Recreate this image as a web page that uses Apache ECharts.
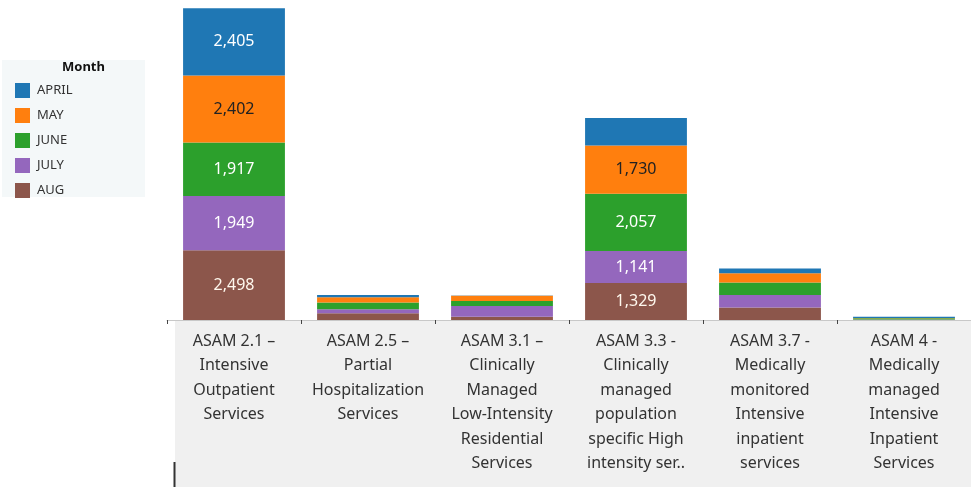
<!DOCTYPE html>
<html><head><meta charset="utf-8">
<script src="https://cdn.jsdelivr.net/npm/echarts@6/dist/echarts.min.js"></script>
<style>html,body{margin:0;padding:0;background:#fff}#c{width:971px;height:487px}</style>
</head><body><div id="c"></div>
<script>
const categories = [
  'ASAM 2.1 –\nIntensive\nOutpatient\nServices',
  'ASAM 2.5 –\nPartial\nHospitalization\nServices',
  'ASAM 3.1 –\nClinically\nManaged\nLow-Intensity\nResidential\nServices',
  'ASAM 3.3 -\nClinically\nmanaged\npopulation\nspecific High\nintensity ser..',
  'ASAM 3.7 -\nMedically\nmonitored\nIntensive\ninpatient\nservices',
  'ASAM 4 -\nMedically\nmanaged\nIntensive\nInpatient\nServices'
];
const months = ['APRIL', 'MAY', 'JUNE', 'JULY', 'AUG'];
const april = [2405, 85, 10, 980, 170, 45];
const may   = [2402, 190, 180, 1730, 335, 5];
const june  = [1917, 240, 180, 2057, 445, 50];
const july  = [1949, 145, 385, 1141, 455, 5];
const aug   = [2498, 240, 120, 1329, 445, 10];
const colors = {APRIL:'#1f77b4', MAY:'#ff7f0e', JUNE:'#2ca02c', JULY:'#9467bd', AUG:'#8c564b'};
const labelColors = {APRIL:'#ffffff', MAY:'#222222', JUNE:'#ffffff', JULY:'#ffffff', AUG:'#fff8ee'};
const valuesByMonth = {APRIL:april, MAY:may, JUNE:june, JULY:july, AUG:aug};
const stackOrder = ['AUG', 'JULY', 'JUNE', 'MAY', 'APRIL'];
const FONT = '"Noto Sans", sans-serif';

const chart = echarts.init(document.getElementById('c'), null, {renderer:'canvas'});
const series = stackOrder.map(m => ({
  name: m, type: 'bar', stack: 'total', barWidth: '76%',
  itemStyle: {color: colors[m]},
  label: {
    show: true, position: 'inside', color: labelColors[m], fontSize: 16, fontFamily: FONT,
    formatter: p => p.value >= 1100 ? p.value.toLocaleString('en-US') : ''
  },
  data: valuesByMonth[m]
}));

chart.setOption({
  animation: false,
  graphic: [
    {type:'rect', left:2, top:60, shape:{width:143, height:137}, style:{fill:'#f4f8f9'}, z:-1},
    {type:'text', left:62, top:61, style:{text:'Month', font:'bold 13px "Noto Sans", sans-serif', fill:'#111'}},
    {type:'rect', left:175, top:320, shape:{width:796, height:167}, style:{fill:'#f0f0f0'}, z:-1},
    {type:'line', shape:{x1:174.5, y1:462, x2:174.5, y2:487}, style:{stroke:'#333', lineWidth:2}}
  ],
  legend: {
    orient:'vertical', left:10, top:78, itemWidth:15, itemHeight:15, itemGap:10,
    icon:'rect', data: months,
    textStyle:{fontSize:13, color:'#333', fontFamily:FONT, padding:[0,0,0,2]}
  },
  grid: {left:167, top:0, height:320, width:811},
  xAxis: {
    type:'category', data: categories,
    axisLine:{show:true, lineStyle:{color:'#c8c8c8', width:1}},
    axisTick:{show:true, length:4, lineStyle:{color:'#444'}},
    axisLabel:{interval:0, fontSize:16, color:'#333', lineHeight:24.5, margin:9, fontFamily:FONT}
  },
  yAxis: {type:'value', min:0, max:11470, show:false, splitLine:{show:false}},
  series: series
});
</script></body></html>
